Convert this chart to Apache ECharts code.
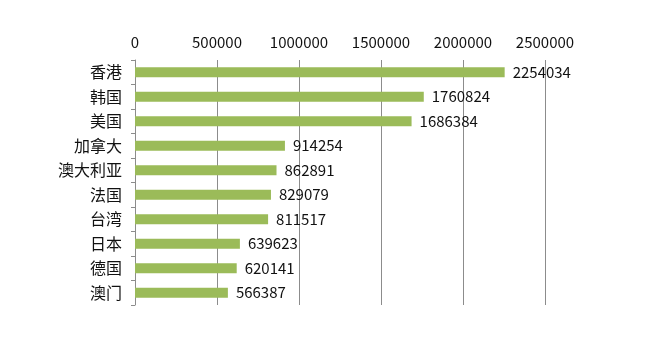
<!DOCTYPE html>
<html><head><meta charset="utf-8">
<script src="https://cdn.jsdelivr.net/npm/echarts@6/dist/echarts.min.js"></script>
<style>html,body{margin:0;padding:0;background:#fff}#c{width:650px;height:350px}</style>
</head><body><div id="c"></div>
<script>
var categories = ['香港','韩国','美国','加拿大','澳大利亚','法国','台湾','日本','德国','澳门'];
var values = [2254034,1760824,1686384,914254,862891,829079,811517,639623,620141,566387];
var xTicks = [0,500000,1000000,1500000,2000000,2500000];

var font = '"Noto Sans CJK SC", "Noto Sans", sans-serif';
var chart = echarts.init(document.getElementById('c'), null, {renderer:'canvas'});
chart.setOption({
  animation:false,
  backgroundColor:'#fff',
  grid:{left:135, right:105, top:60, bottom:45, containLabel:false},
  xAxis:{
    type:'value', position:'top', min:xTicks[0], max:xTicks[xTicks.length-1], interval:xTicks[1]-xTicks[0],
    axisLine:{show:false}, axisTick:{show:false},
    axisLabel:{color:'#111', fontSize:15, fontFamily:font, margin:10, formatter:function(v){return String(v);}},
    splitLine:{show:true, lineStyle:{color:'#8c8c8c', width:1}}
  },
  yAxis:{
    type:'category', data:categories, inverse:true,
    axisLine:{show:true, lineStyle:{color:'#8c8c8c', width:1}},
    axisTick:{show:true, length:4, lineStyle:{color:'#8c8c8c'}},
    axisLabel:{color:'#111', fontSize:16, fontFamily:font, margin:13}
  },
  series:[{
    type:'bar', data:values, barWidth:10,
    itemStyle:{color:'#9bbb59'},
    label:{show:true, position:'right', distance:8, color:'#111', fontSize:15, fontFamily:font}
  }]
});
</script></body></html>
